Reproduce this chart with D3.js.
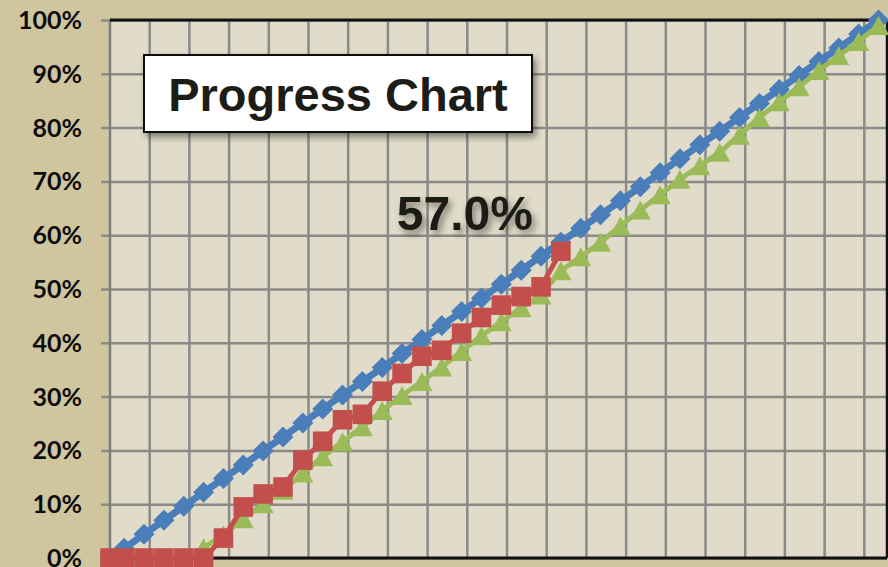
<!DOCTYPE html>
<meta charset="utf-8">
<head>
    <style>
        body { margin: 0; background: #cfc6a0; }
        .ylabel { font-family: Lato, "Liberation Sans", sans-serif; font-weight: bold; font-size: 25px; fill: #0d0d0d; }
        .title { font-family: "Liberation Sans", Arial, sans-serif; font-weight: bold; font-size: 47px; fill: #1e1c16; }
        .current { font-family: "Liberation Sans", Arial, sans-serif; font-weight: bold; font-size: 48px; fill: #1e1c16; }
    </style>
</head>

<!-- Load d3.js -->
<script src="https://d3js.org/d3.v7.min.js"></script>

<div id="my_dataviz"></div>

<script>

    // days since start for each status date
    var days = [0, 5, 12, 19, 26, 33, 40, 47, 54, 61, 68, 75, 82, 89, 96, 103, 110, 117, 124, 131,
                138, 145, 152, 159, 166, 173, 180, 187, 194, 201, 208, 215, 222, 229, 236, 243, 250, 257, 264, 271];

    // planned progress (blue diamonds), in %
    var planned = [0, 1.8, 4.4, 7.0, 9.6, 12.2, 14.8, 17.3, 19.9, 22.5, 25.1, 27.7, 30.3, 32.8, 35.4, 38.0, 40.6, 43.2, 45.8, 48.3,
                   50.9, 53.5, 56.1, 58.7, 61.3, 63.8, 66.4, 69.0, 71.6, 74.2, 76.8, 79.3, 81.9, 84.5, 87.1, 89.7, 92.3, 94.8, 97.4, 100];

    // forecast / earned (green triangles), in %
    var forecast = [0, 0, 0, 0, 0, 1.9, 4.3, 7.3, 10.1, 12.6, 15.8, 18.8, 21.6, 24.4, 27.4, 30.2, 32.8, 35.5, 38.4, 41.3,
                    43.9, 46.5, 48.9, 53.4, 56.0, 58.7, 61.7, 64.7, 67.5, 70.4, 72.9, 75.4, 78.6, 81.9, 84.8, 87.6, 90.6, 93.4, 96.0, 99.0];

    // actual progress (red squares), in %
    var actual = [0, 0, 0, 0, 0, 0, 3.7, 9.5, 11.9, 13.2, 18.2, 21.7, 25.7, 26.7, 31.0, 34.3, 37.5, 38.6, 41.8, 44.7,
                  47.0, 48.6, 50.4, 57.0];

    var yTicks = [0, 10, 20, 30, 40, 50, 60, 70, 80, 90, 100];
    var xGridDays = [14, 28, 42, 56, 70, 84, 98, 112, 126, 140, 154, 168, 182, 196, 210, 224, 238, 252, 266];
    var chartTitle = "Progress Chart";

    // dimensions
    var W = 888, H = 567;
    var margin = {top: 20, right: 1, bottom: 9, left: 110};
    var width = W - margin.left - margin.right,
        height = H - margin.top - margin.bottom;

    var svg = d3.select("#my_dataviz")
      .append("svg")
        .attr("width", W)
        .attr("height", H)
        .style("display", "block");

    var defs = svg.append("defs");
    var f = defs.append("filter").attr("id", "shadow")
        .attr("x", "-20%").attr("y", "-20%").attr("width", "140%").attr("height", "160%");
    f.append("feDropShadow")
        .attr("dx", 3).attr("dy", 4).attr("stdDeviation", 3.5)
        .attr("flood-color", "#000").attr("flood-opacity", 0.45);

    svg.append("rect").attr("width", W).attr("height", H).attr("fill", "#cfc6a0");

    var g = svg.append("g")
        .attr("transform", "translate(" + margin.left + "," + margin.top + ")");

    // scales
    var x = d3.scaleLinear().domain([0, 274]).range([0, width]);
    var y = d3.scaleLinear().domain([0, 100]).range([height, 0]);

    // plot background
    g.append("rect")
        .attr("width", width).attr("height", height)
        .attr("fill", "#e1dcc9");

    // vertical grid
    g.selectAll(".vgrid")
      .data(xGridDays)
      .enter().append("line")
        .attr("x1", function(d) { return x(d); })
        .attr("x2", function(d) { return x(d); })
        .attr("y1", 0).attr("y2", height)
        .attr("stroke", "#8a8a88").attr("stroke-width", 2.5);

    // Y axis with gridlines
    var yAxis = g.append("g")
        .call(d3.axisLeft(y).tickValues(yTicks).tickSize(-width).tickFormat(""));
    yAxis.select(".domain").remove();
    yAxis.selectAll("line")
        .attr("stroke", "#8a8a88").attr("stroke-width", 2.5)
        .attr("x1", -9);

    // tick labels
    g.selectAll(".ylabel")
      .data(yTicks)
      .enter().append("text")
        .attr("class", "ylabel")
        .attr("x", -28)
        .attr("y", function(d) { return y(d); })
        .attr("dy", "0.36em")
        .attr("text-anchor", "end")
        .text(function(d) { return d + "%"; });

    // frame
    g.append("line").attr("x1", 0).attr("x2", 0).attr("y1", 0).attr("y2", height)
        .attr("stroke", "#7d7d7b").attr("stroke-width", 2.5);
    g.append("line").attr("x1", 0).attr("x2", width).attr("y1", 0).attr("y2", 0)
        .attr("stroke", "#111").attr("stroke-width", 3);
    g.append("line").attr("x1", width).attr("x2", width).attr("y1", 0).attr("y2", height)
        .attr("stroke", "#111").attr("stroke-width", 2.5);
    g.append("line").attr("x1", 0).attr("x2", width).attr("y1", height).attr("y2", height)
        .attr("stroke", "#111").attr("stroke-width", 3);

    function series(values, color, lw, shape) {
        var pts = values.map(function(v, i) { return [x(days[i]), y(v)]; });
        g.append("path")
            .datum(pts)
            .attr("fill", "none")
            .attr("stroke", color)
            .attr("stroke-width", lw)
            .attr("stroke-linejoin", "round")
            .attr("d", d3.line());
        g.selectAll(null)
          .data(pts)
          .enter().append("path")
            .attr("transform", function(d) { return "translate(" + d[0] + "," + d[1] + ")"; })
            .attr("d", shape)
            .attr("fill", color);
    }

    var diamond = "M0,-10.5L10.5,0L0,10.5L-10.5,0Z";
    var triangle = "M0,-9.5L10.5,9.5L-10.5,9.5Z";
    var square = "M-9.8,-9.8H9.8V9.8H-9.8Z";

    series(planned, "#4a7ebb", 7, diamond);
    series(forecast, "#9bbb59", 5, triangle);
    series(actual, "#c24f4c", 5, square);

    // current value label
    var lastIdx = actual.length - 1;
    g.append("text")
        .attr("class", "current")
        .attr("filter", "url(#shadow)")
        .attr("x", x(days[lastIdx]) - 28)
        .attr("y", y(actual[lastIdx]) - 21)
        .attr("text-anchor", "end")
        .text(d3.format(".1f")(actual[lastIdx]) + "%");

    // title box
    svg.append("rect")
        .attr("x", 144).attr("y", 55)
        .attr("width", 388).attr("height", 77)
        .attr("fill", "#fff")
        .attr("stroke", "#111").attr("stroke-width", 2)
        .attr("filter", "url(#shadow)");
    svg.append("text")
        .attr("class", "title")
        .attr("x", 338).attr("y", 111)
        .attr("text-anchor", "middle")
        .text(chartTitle);

</script>
